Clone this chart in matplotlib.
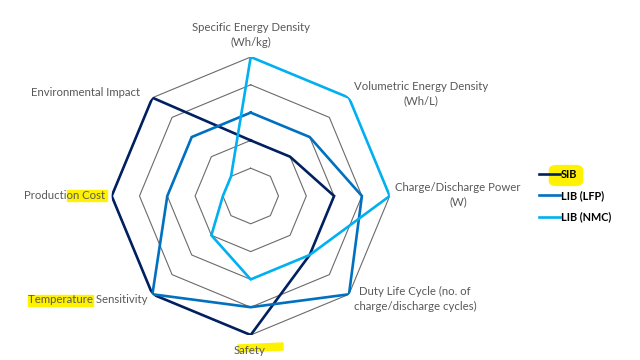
"""Radar chart comparing SIB and LIB chemistries."""

import numpy as np
import matplotlib
matplotlib.use('Agg')
import matplotlib.pyplot as plt
from matplotlib.patches import Rectangle, FancyBboxPatch, Polygon

categories = ['Specific Energy Density\n(Wh/kg)', 'Volumetric Energy Density\n(Wh/L)',
              'Charge/Discharge Power\n(W)', 'Duty Life Cycle (no. of\ncharge/discharge cycles)',
              'Safety', 'Temperature Sensitivity', 'Production Cost', 'Environmental Impact']
sib = [2, 2, 3, 3, 5, 5, 5, 5]
lfp = [3, 3, 4, 5, 4, 5, 3, 3]
nmc = [5, 5, 5, 3, 3, 2, 1, 1]
series_names = ['SIB', 'LIB (LFP)', 'LIB (NMC)']
levels = [1, 2, 3, 4, 5]

colors = ['#002060', '#0070C0', '#00B0F0']
label_color = '#595959'
plt.rcParams['font.family'] = ['Lato', 'DejaVu Sans']

W, H = 640, 360
fig = plt.figure(figsize=(6.4, 3.6), dpi=100)
cx, cy, R = 250.7, 196.0, 139.0
ax = fig.add_axes([(cx - R) / W, (H - cy - R) / H, 2 * R / W, 2 * R / H], projection='polar')
ax.set_theta_zero_location('N')
ax.set_theta_direction(-1)
ax.set_ylim(0, 5)
ax.grid(False)
ax.spines['polar'].set_visible(False)
ax.set_xticks([])
ax.set_yticks([])
ax.patch.set_alpha(0)

theta = np.linspace(0, 2 * np.pi, len(categories), endpoint=False)
closed = np.append(theta, theta[0])

for lv in levels:
    ax.plot(closed, [lv] * len(closed), color='#6b6b6b', lw=0.8, zorder=1)

for vals, name, c in zip([sib, lfp, nmc], series_names, colors):
    ax.plot(closed, list(vals) + [vals[0]], color=c, lw=1.9, label=name, zorder=3,
            solid_joinstyle='miter')

# category labels (pixel positions from top-left)
label_pos = [(250.5, 35, 'center'), (421, 93.5, 'center'), (458, 195, 'center'),
             (415, 299, 'center'), (250, 350, 'center'), (147, 299.5, 'right'),
             (105, 196, 'right'), (140, 92.5, 'right')]

def fx(x):
    return x / W

def fy(y):
    return 1 - y / H

# yellow highlighter marks
hl = '#FFF200'
fig.patches.append(Rectangle((fx(67), fy(201)), 40 / W, 11 / H, transform=fig.transFigure,
                             color=hl, zorder=0))
fig.patches.append(Rectangle((fx(28), fy(305.5)), 65 / W, 11 / H, transform=fig.transFigure,
                             color=hl, zorder=0))
fig.patches.append(Polygon([(fx(238), fy(345)), (fx(283), fy(343)), (fx(283), fy(350)),
                            (fx(238), fy(352))], closed=True, transform=fig.transFigure,
                           color=hl, zorder=0))
fig.patches.append(FancyBboxPatch((fx(552), fy(184)), 28 / W, 17 / H,
                                  boxstyle='round,pad=0.004,rounding_size=0.012',
                                  transform=fig.transFigure, color=hl, zorder=0))

for (x, y, ha), txt in zip(label_pos, categories):
    fig.text(fx(x), fy(y), txt, ha=ha, va='center', fontsize=8.2, color=label_color,
             linespacing=1.35, zorder=2)

# legend
for i, (name, c) in enumerate(zip(series_names, colors)):
    y = 174 + i * 21.3
    fig.add_artist(plt.Line2D([fx(539), fx(560)], [fy(y), fy(y)], color=c, lw=1.9))
    fig.text(fx(561), fy(y), name, ha='left', va='center', fontsize=7.8,
             fontweight='bold', color='black')

fig.savefig('out.png', dpi=100)
